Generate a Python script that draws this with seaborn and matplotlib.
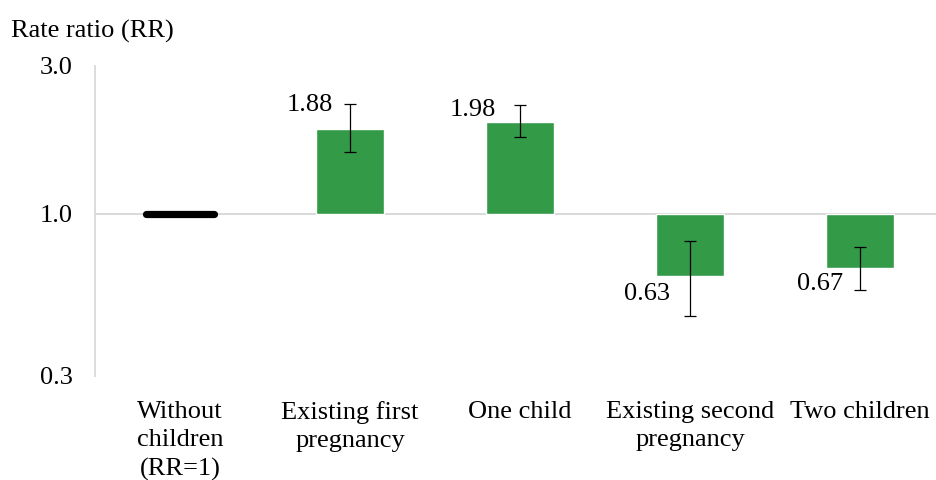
import numpy as np
import pandas as pd
import matplotlib
matplotlib.use("Agg")
import matplotlib.pyplot as plt
import seaborn as sns

# Rate ratios by childbearing status, with 95% confidence limits
categories = ["Without\nchildren\n(RR=1)", "Existing first\npregnancy", "One child",
              "Existing second\npregnancy", "Two children"]
rate_ratio = [1.00, 1.88, 1.98, 0.63, 0.67]
ci_low = [np.nan, 1.58, 1.77, 0.47, 0.57]
ci_high = [np.nan, 2.26, 2.25, 0.82, 0.78]
value_labels = ["", "1.88", "1.98", "0.63", "0.67"]
y_ticks = [0.3, 1.0, 3.0]
y_tick_labels = ["0.3", "1.0", "3.0"]

sns.set_theme(style="white")
plt.rcParams["font.family"] = ["Liberation Serif", "DejaVu Serif"]

FS = 19
W, H = 936, 480
fig = plt.figure(figsize=(W / 100, H / 100), dpi=100)
# axes span: x from 95px to 945px, y from 66px (3.0) to 376px (0.3)
ax = fig.add_axes([95 / W, (H - 376) / H, 850 / W, 310 / H])

df = pd.DataFrame({"category": categories,
                   "log_rr": np.log10(rate_ratio)})
bar_color = "#339a48"

sns.barplot(data=df, x="category", y="log_rr", color=bar_color,
            saturation=1, width=0.4, ax=ax, zorder=2)

# reference category drawn as a thick black line at RR = 1
ref_y = np.log10(rate_ratio[0])
ax.plot([-0.2, 0.2], [ref_y, ref_y], color="black", lw=5.2,
        solid_capstyle="round", zorder=4)

# confidence intervals
xs = np.arange(1, len(categories))
lo = np.log10(ci_low[1:])
hi = np.log10(ci_high[1:])
mid = (lo + hi) / 2
ax.errorbar(xs, mid, yerr=(hi - lo) / 2, fmt="none", ecolor="black",
            elinewidth=0.9, capsize=4.3, capthick=0.9, zorder=5)

# value labels beside each bar
offsets = [(0, 0), (-40, 24), (-47, 12), (-43, -18), (-40, -16)]
for i, (lab, rr) in enumerate(zip(value_labels, rate_ratio)):
    if not lab:
        continue
    dx, dy = offsets[i]
    ax.annotate(lab, (i, np.log10(rr)), xytext=(dx, dy),
                textcoords="offset pixels", ha="center", va="center",
                fontsize=FS, color="black", zorder=6)

# horizontal axis crossing at RR = 1
ax.axhline(0, color="#d9d9d9", lw=1.4, zorder=1)

ax.set_xlim(-0.5, 4.5)
ax.set_ylim(np.log10(0.3), np.log10(3.0))
ax.set_yticks(np.log10(y_ticks))
ax.set_yticklabels(y_tick_labels)
ax.set_xlabel("")
ax.set_ylabel("")
ax.tick_params(axis="y", length=0, pad=16, labelsize=FS, colors="black")
ax.tick_params(axis="x", length=0, pad=18, labelsize=FS, colors="black")
for lbl in ax.get_xticklabels():
    lbl.set_linespacing(1.38)

for side in ["top", "right", "bottom"]:
    ax.spines[side].set_visible(False)
ax.spines["left"].set_color("#d9d9d9")
ax.spines["left"].set_linewidth(1.3)
ax.grid(False)

fig.text(11 / W, 1 - 31 / H, "Rate ratio (RR)", ha="left", va="center",
         fontsize=FS, color="black")

fig.savefig("out.png", dpi=100, facecolor="white")
